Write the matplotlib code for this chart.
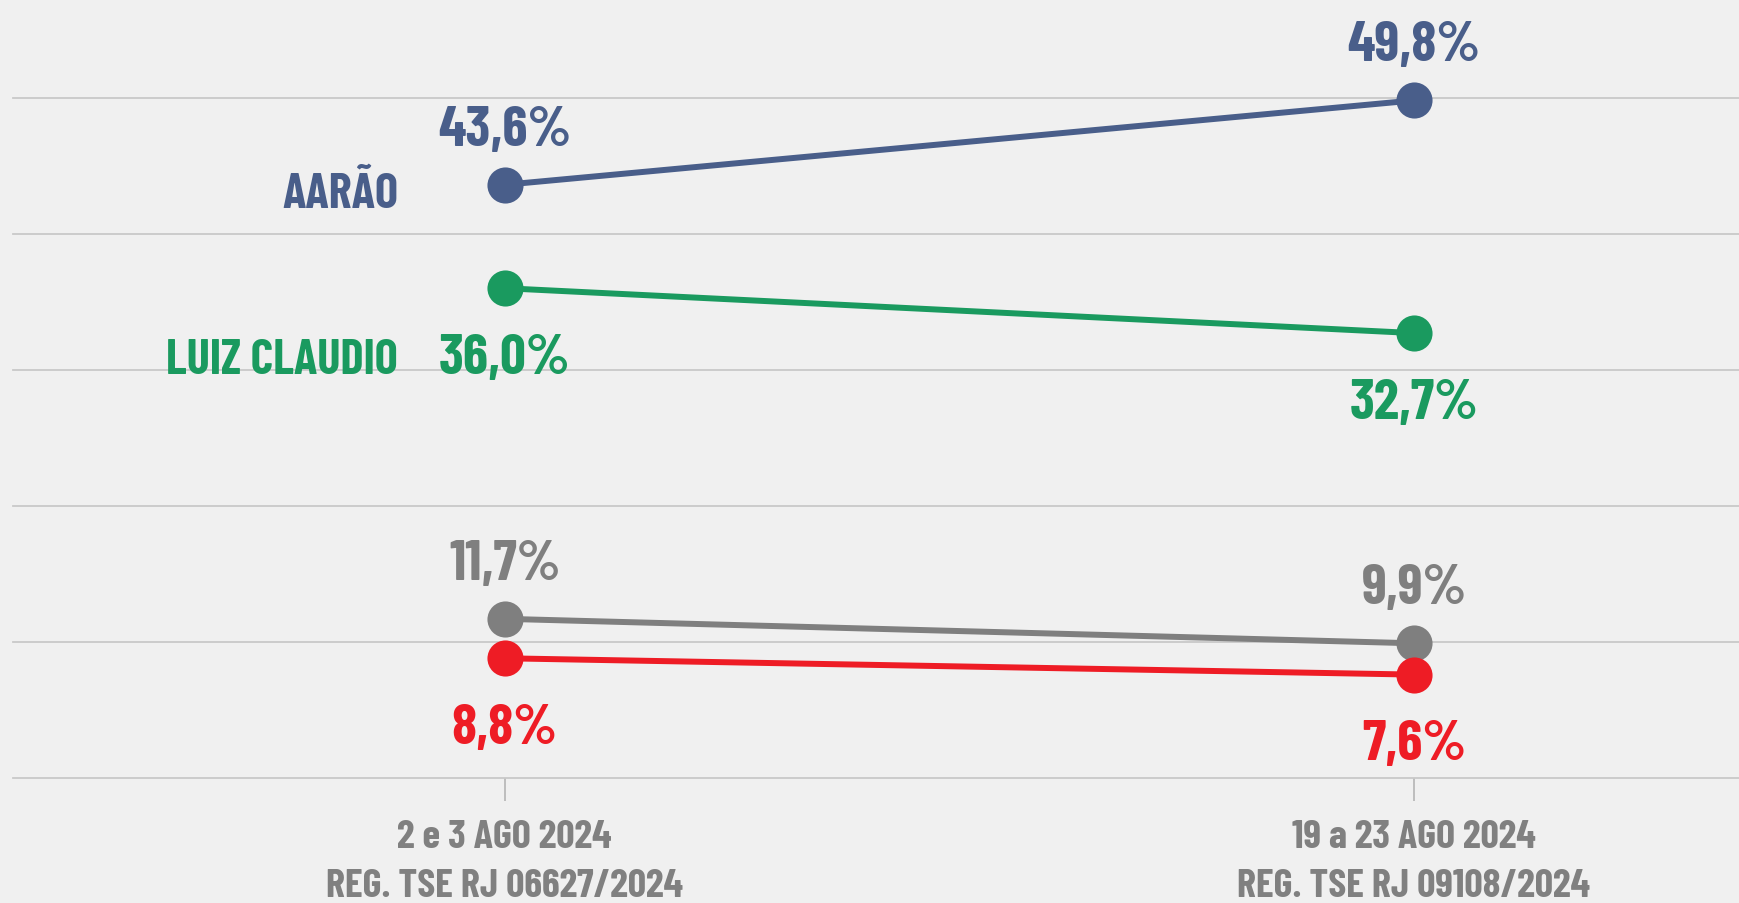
import matplotlib
matplotlib.use("Agg")
import matplotlib.pyplot as plt

# ---- data ----
periods = ["2 e 3 AGO 2024\nREG. TSE RJ 06627/2024",
           "19 a 23 AGO 2024\nREG. TSE RJ 09108/2024"]
aarao = [43.6, 49.8]
luiz_claudio = [36.0, 32.7]
outros = [11.7, 9.9]
vermelho = [8.8, 7.6]
series_names = ["AARÃO", "LUIZ CLAUDIO"]
y_grid = [0, 10, 20, 30, 40, 50]

# ---- style ----
FONT = ["Barlow Condensed", "DejaVu Sans"]
BG = "#f0f0f0"
colors = ["#495e8a", "#1a9a5f", "#7f7f7f", "#ee1c25"]
all_series = [aarao, luiz_claudio, outros, vermelho]
label_above = [True, False, True, False]

W, H = 1739, 904
fig = plt.figure(figsize=(W / 100, H / 100), dpi=100, facecolor=BG)
y0_px, y50_px = 779.0, 98.7
ax = fig.add_axes([13 / W, (H - y0_px) / H, 1 - 13 / W, y0_px / H])
ax.set_facecolor(BG)

x0_px, x1_px = 504.6, 1414.0
pxu = (x1_px - x0_px)
ax.set_xlim((13 - x0_px) / pxu, (W - x0_px) / pxu)
pyu = (y0_px - y50_px) / 50
ax.set_ylim(0, 50 + y50_px / pyu)

for s in ax.spines.values():
    s.set_visible(False)
ax.set_yticks(y_grid)
ax.set_yticklabels([])
ax.tick_params(axis="y", length=0)
ax.grid(axis="y", color="#c9c9c9", linewidth=1.3, zorder=0)
for gl in ax.get_ygridlines():
    gl.set_clip_on(False)

xs = list(range(len(periods)))
ax.set_xticks(xs)
ax.set_xticklabels(periods, fontsize=29, color="#808080", fontweight="bold",
                   family=FONT, linespacing=1.5)
ax.tick_params(axis="x", length=16.5, width=1.2, color="#b5b5b5", pad=13)

for vals, c, above in zip(all_series, colors, label_above):
    ax.plot(xs, vals, color=c, linewidth=4.3, marker="o", markersize=26,
            markeredgewidth=0, zorder=3, solid_capstyle="butt")
    for x, v in zip(xs, vals):
        txt = f"{v:.1f}".replace(".", ",") + "%"
        dy = 29 if above else -61
        ax.annotate(txt, (x, v), xytext=(0, dy), textcoords="offset points",
                    ha="center", va="baseline", fontsize=41, fontweight="bold",
                    color=c, family=FONT)

# series name labels
ax.annotate(series_names[0], (xs[0], aarao[0]), xytext=(-76.7, -16), textcoords="offset points",
            ha="right", va="baseline", fontsize=35, fontweight="bold", color=colors[0],
            family=FONT)
ax.annotate(series_names[1], (xs[0], luiz_claudio[0]), xytext=(-76.7, -61), textcoords="offset points",
            ha="right", va="baseline", fontsize=35, fontweight="bold", color=colors[1],
            family=FONT)

fig.savefig("out.png", dpi=100, facecolor=BG)
